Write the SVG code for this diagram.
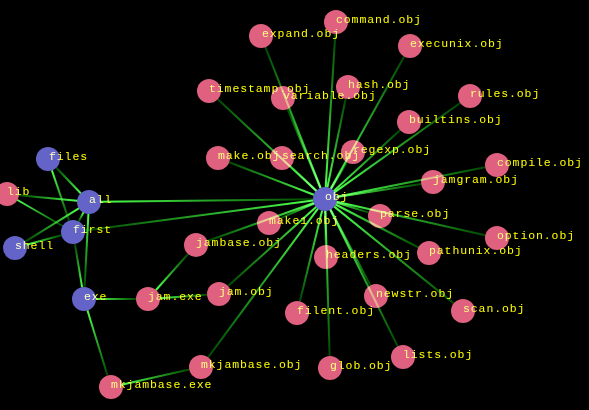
<svg xmlns="http://www.w3.org/2000/svg" xmlns:xlink="http://www.w3.org/1999/xlink" width="589" height="410" viewBox="0 0 589 410">
<style>
.p{fill:#e0607f}
.b{fill:#6464c8}
text{font-family:"Liberation Mono","DejaVu Sans Mono",monospace;font-size:11.5px;letter-spacing:0.9px;fill:#ffff00;mix-blend-mode:screen}
#edges line{stroke-width:2;mix-blend-mode:screen;fill:none}
</style>
<defs>
<linearGradient id="g"><stop offset="0" stop-color="#4cff4c"/><stop offset="1" stop-color="#004800"/></linearGradient>
<linearGradient id="e1" xlink:href="#g" gradientUnits="userSpaceOnUse" x1="325.7" y1="187" x2="335.3" y2="34"/>
<linearGradient id="e2" xlink:href="#g" gradientUnits="userSpaceOnUse" x1="320.6" y1="187.8" x2="265.4" y2="47.2"/>
<linearGradient id="e3" xlink:href="#g" gradientUnits="userSpaceOnUse" x1="330.8" y1="188.5" x2="404.2" y2="56.5"/>
<linearGradient id="e4" xlink:href="#g" gradientUnits="userSpaceOnUse" x1="327.4" y1="187.2" x2="345.6" y2="98.8"/>
<linearGradient id="e5" xlink:href="#g" gradientUnits="userSpaceOnUse" x1="316.2" y1="190.8" x2="217.8" y2="99.2"/>
<linearGradient id="e6" xlink:href="#g" gradientUnits="userSpaceOnUse" x1="320.4" y1="187.9" x2="287.6" y2="109.1"/>
<linearGradient id="e7" xlink:href="#g" gradientUnits="userSpaceOnUse" x1="334.8" y1="192.1" x2="460.2" y2="103"/>
<linearGradient id="e8" xlink:href="#g" gradientUnits="userSpaceOnUse" x1="333.8" y1="190.9" x2="400.2" y2="130.1"/>
<linearGradient id="e9" xlink:href="#g" gradientUnits="userSpaceOnUse" x1="336.8" y1="196.7" x2="485.2" y2="167.3"/>
<linearGradient id="e10" xlink:href="#g" gradientUnits="userSpaceOnUse" x1="336.9" y1="197.1" x2="421.1" y2="183.9"/>
<linearGradient id="e11" xlink:href="#g" gradientUnits="userSpaceOnUse" x1="331.1" y1="188.7" x2="346.9" y2="162.3"/>
<linearGradient id="e12" xlink:href="#g" gradientUnits="userSpaceOnUse" x1="313.8" y1="194.7" x2="229.2" y2="162.3"/>
<linearGradient id="e13" xlink:href="#g" gradientUnits="userSpaceOnUse" x1="316.3" y1="190.7" x2="290.7" y2="166.3"/>
<linearGradient id="e14" xlink:href="#g" gradientUnits="userSpaceOnUse" x1="314" y1="203.7" x2="280" y2="218.3"/>
<linearGradient id="e15" xlink:href="#g" gradientUnits="userSpaceOnUse" x1="336.5" y1="202.5" x2="368.5" y2="212.5"/>
<linearGradient id="e16" xlink:href="#g" gradientUnits="userSpaceOnUse" x1="313.7" y1="203" x2="207.3" y2="241"/>
<linearGradient id="e17" xlink:href="#g" gradientUnits="userSpaceOnUse" x1="325.2" y1="211" x2="325.8" y2="245"/>
<linearGradient id="e18" xlink:href="#g" gradientUnits="userSpaceOnUse" x1="336.7" y1="201.7" x2="485.3" y2="235.3"/>
<linearGradient id="e19" xlink:href="#g" gradientUnits="userSpaceOnUse" x1="335.6" y1="204.5" x2="418.4" y2="247.5"/>
<linearGradient id="e20" xlink:href="#g" gradientUnits="userSpaceOnUse" x1="334.3" y1="206.6" x2="453.7" y2="303.4"/>
<linearGradient id="e21" xlink:href="#g" gradientUnits="userSpaceOnUse" x1="330.6" y1="209.6" x2="370.4" y2="285.4"/>
<linearGradient id="e22" xlink:href="#g" gradientUnits="userSpaceOnUse" x1="322.1" y1="210.7" x2="299.9" y2="301.3"/>
<linearGradient id="e23" xlink:href="#g" gradientUnits="userSpaceOnUse" x1="330.3" y1="209.8" x2="397.7" y2="346.2"/>
<linearGradient id="e24" xlink:href="#g" gradientUnits="userSpaceOnUse" x1="325.4" y1="211" x2="329.6" y2="356"/>
<linearGradient id="e25" xlink:href="#g" gradientUnits="userSpaceOnUse" x1="316.1" y1="207" x2="228.1" y2="286"/>
<linearGradient id="e26" xlink:href="#g" gradientUnits="userSpaceOnUse" x1="317.9" y1="208.7" x2="208.1" y2="357.3"/>
<linearGradient id="e27" xlink:href="#g" gradientUnits="userSpaceOnUse" x1="313.1" y1="200.6" x2="84.9" y2="230.4"/>
<linearGradient id="e28" xlink:href="#g" gradientUnits="userSpaceOnUse" x1="101" y1="201.8" x2="313" y2="199.2"/>
<linearGradient id="e29" xlink:href="#g" gradientUnits="userSpaceOnUse" x1="80.7" y1="193.3" x2="56.3" y2="167.7"/>
<linearGradient id="e30" xlink:href="#g" gradientUnits="userSpaceOnUse" x1="77.1" y1="200.8" x2="18.9" y2="195.2"/>
<linearGradient id="e31" xlink:href="#g" gradientUnits="userSpaceOnUse" x1="78.8" y1="208.3" x2="25.2" y2="241.7"/>
<linearGradient id="e32" xlink:href="#g" gradientUnits="userSpaceOnUse" x1="88.4" y1="214" x2="84.6" y2="287"/>
<linearGradient id="e33" xlink:href="#g" gradientUnits="userSpaceOnUse" x1="83.4" y1="212.6" x2="78.6" y2="221.4"/>
<linearGradient id="e34" xlink:href="#g" gradientUnits="userSpaceOnUse" x1="51.9" y1="170.4" x2="69.1" y2="220.6"/>
<linearGradient id="e35" xlink:href="#g" gradientUnits="userSpaceOnUse" x1="17.4" y1="200" x2="62.6" y2="226"/>
<linearGradient id="e36" xlink:href="#g" gradientUnits="userSpaceOnUse" x1="26.6" y1="244.8" x2="61.4" y2="235.2"/>
<linearGradient id="e37" xlink:href="#g" gradientUnits="userSpaceOnUse" x1="82.1" y1="287.2" x2="74.9" y2="243.8"/>
<linearGradient id="e38" xlink:href="#g" gradientUnits="userSpaceOnUse" x1="96" y1="299" x2="136" y2="299"/>
<linearGradient id="e39" xlink:href="#g" gradientUnits="userSpaceOnUse" x1="87.5" y1="310.5" x2="107.5" y2="375.5"/>
<linearGradient id="e40" xlink:href="#g" gradientUnits="userSpaceOnUse" x1="160" y1="298.2" x2="207" y2="294.8"/>
<linearGradient id="e41" xlink:href="#g" gradientUnits="userSpaceOnUse" x1="156" y1="290" x2="188" y2="254"/>
<linearGradient id="e42" xlink:href="#g" gradientUnits="userSpaceOnUse" x1="122.7" y1="384.4" x2="189.3" y2="369.6"/>
</defs>
<rect x="0" y="0" width="589" height="410" fill="#000"/>
<g id="n-obj"><circle class="b" cx="325" cy="199" r="12"/><text x="325" y="200">obj</text></g>
<g id="n-files"><circle class="b" cx="48" cy="159" r="12"/><text x="49" y="160">files</text></g>
<g id="n-all"><circle class="b" cx="89" cy="202" r="12"/><text x="89" y="203">all</text></g>
<g id="n-first"><circle class="b" cx="73" cy="232" r="12"/><text x="73" y="233">first</text></g>
<g id="n-shell"><circle class="b" cx="15" cy="248" r="12"/><text x="15" y="249">shell</text></g>
<g id="n-exe"><circle class="b" cx="84" cy="299" r="12"/><text x="84" y="300">exe</text></g>
<g id="n-lib"><circle class="p" cx="7" cy="194" r="12"/><text x="7" y="195">lib</text></g>
<g id="n-command"><circle class="p" cx="336" cy="22" r="12"/><text x="336" y="23">command.obj</text></g>
<g id="n-expand"><circle class="p" cx="261" cy="36" r="12"/><text x="262" y="37">expand.obj</text></g>
<g id="n-execunix"><circle class="p" cx="410" cy="46" r="12"/><text x="410" y="47">execunix.obj</text></g>
<g id="n-hash"><circle class="p" cx="348" cy="87" r="12"/><text x="348" y="88">hash.obj</text></g>
<g id="n-variable"><circle class="p" cx="283" cy="98" r="12"/><text x="283" y="99">variable.obj</text></g>
<g id="n-timestamp"><circle class="p" cx="209" cy="91" r="12"/><text x="209" y="92">timestamp.obj</text></g>
<g id="n-rules"><circle class="p" cx="470" cy="96" r="12"/><text x="470" y="97">rules.obj</text></g>
<g id="n-builtins"><circle class="p" cx="409" cy="122" r="12"/><text x="409" y="123">builtins.obj</text></g>
<g id="n-compile"><circle class="p" cx="497" cy="165" r="12"/><text x="497" y="166">compile.obj</text></g>
<g id="n-jamgram"><circle class="p" cx="433" cy="182" r="12"/><text x="433" y="183">jamgram.obj</text></g>
<g id="n-regexp"><circle class="p" cx="353" cy="152" r="12"/><text x="353" y="153">regexp.obj</text></g>
<g id="n-search"><circle class="p" cx="282" cy="158" r="12"/><text x="282" y="159">search.obj</text></g>
<g id="n-make"><circle class="p" cx="218" cy="158" r="12"/><text x="218" y="159">make.obj</text></g>
<g id="n-make1"><circle class="p" cx="269" cy="223" r="12"/><text x="269" y="224">make1.obj</text></g>
<g id="n-parse"><circle class="p" cx="380" cy="216" r="12"/><text x="380" y="217">parse.obj</text></g>
<g id="n-jambase"><circle class="p" cx="196" cy="245" r="12"/><text x="196" y="246">jambase.obj</text></g>
<g id="n-option"><circle class="p" cx="497" cy="238" r="12"/><text x="497" y="239">option.obj</text></g>
<g id="n-pathunix"><circle class="p" cx="429" cy="253" r="12"/><text x="429" y="254">pathunix.obj</text></g>
<g id="n-headers"><circle class="p" cx="326" cy="257" r="12"/><text x="326" y="258">headers.obj</text></g>
<g id="n-scan"><circle class="p" cx="463" cy="311" r="12"/><text x="463" y="312">scan.obj</text></g>
<g id="n-newstr"><circle class="p" cx="376" cy="296" r="12"/><text x="376" y="297">newstr.obj</text></g>
<g id="n-filent"><circle class="p" cx="297" cy="313" r="12"/><text x="297" y="314">filent.obj</text></g>
<g id="n-lists"><circle class="p" cx="403" cy="357" r="12"/><text x="403" y="358">lists.obj</text></g>
<g id="n-glob"><circle class="p" cx="330" cy="368" r="12"/><text x="330" y="369">glob.obj</text></g>
<g id="n-jamexe"><circle class="p" cx="148" cy="299" r="12"/><text x="148" y="300">jam.exe</text></g>
<g id="n-jamobj"><circle class="p" cx="219" cy="294" r="12"/><text x="219" y="295">jam.obj</text></g>
<g id="n-mkjambaseobj"><circle class="p" cx="201" cy="367" r="12"/><text x="201" y="368">mkjambase.obj</text></g>
<g id="n-mkjambaseexe"><circle class="p" cx="111" cy="387" r="12"/><text x="111" y="388">mkjambase.exe</text></g>
<g id="edges">
<line x1="325.7" y1="187" x2="335.3" y2="34" stroke="url(#e1)"/>
<line x1="320.6" y1="187.8" x2="265.4" y2="47.2" stroke="url(#e2)"/>
<line x1="330.8" y1="188.5" x2="404.2" y2="56.5" stroke="url(#e3)"/>
<line x1="327.4" y1="187.2" x2="345.6" y2="98.8" stroke="url(#e4)"/>
<line x1="316.2" y1="190.8" x2="217.8" y2="99.2" stroke="url(#e5)"/>
<line x1="320.4" y1="187.9" x2="287.6" y2="109.1" stroke="url(#e6)"/>
<line x1="334.8" y1="192.1" x2="460.2" y2="103" stroke="url(#e7)"/>
<line x1="333.8" y1="190.9" x2="400.2" y2="130.1" stroke="url(#e8)"/>
<line x1="336.8" y1="196.7" x2="485.2" y2="167.3" stroke="url(#e9)"/>
<line x1="336.9" y1="197.1" x2="421.1" y2="183.9" stroke="url(#e10)"/>
<line x1="331.1" y1="188.7" x2="346.9" y2="162.3" stroke="url(#e11)"/>
<line x1="313.8" y1="194.7" x2="229.2" y2="162.3" stroke="url(#e12)"/>
<line x1="316.3" y1="190.7" x2="290.7" y2="166.3" stroke="url(#e13)"/>
<line x1="314" y1="203.7" x2="280" y2="218.3" stroke="url(#e14)"/>
<line x1="336.5" y1="202.5" x2="368.5" y2="212.5" stroke="url(#e15)"/>
<line x1="313.7" y1="203" x2="207.3" y2="241" stroke="url(#e16)"/>
<line x1="325.2" y1="211" x2="325.8" y2="245" stroke="url(#e17)"/>
<line x1="336.7" y1="201.7" x2="485.3" y2="235.3" stroke="url(#e18)"/>
<line x1="335.6" y1="204.5" x2="418.4" y2="247.5" stroke="url(#e19)"/>
<line x1="334.3" y1="206.6" x2="453.7" y2="303.4" stroke="url(#e20)"/>
<line x1="330.6" y1="209.6" x2="370.4" y2="285.4" stroke="url(#e21)"/>
<line x1="322.1" y1="210.7" x2="299.9" y2="301.3" stroke="url(#e22)"/>
<line x1="330.3" y1="209.8" x2="397.7" y2="346.2" stroke="url(#e23)"/>
<line x1="325.4" y1="211" x2="329.6" y2="356" stroke="url(#e24)"/>
<line x1="316.1" y1="207" x2="228.1" y2="286" stroke="url(#e25)"/>
<line x1="317.9" y1="208.7" x2="208.1" y2="357.3" stroke="url(#e26)"/>
<line x1="313.1" y1="200.6" x2="84.9" y2="230.4" stroke="url(#e27)"/>
<line x1="101" y1="201.8" x2="313" y2="199.2" stroke="url(#e28)"/>
<line x1="80.7" y1="193.3" x2="56.3" y2="167.7" stroke="url(#e29)"/>
<line x1="77.1" y1="200.8" x2="18.9" y2="195.2" stroke="url(#e30)"/>
<line x1="78.8" y1="208.3" x2="25.2" y2="241.7" stroke="url(#e31)"/>
<line x1="88.4" y1="214" x2="84.6" y2="287" stroke="url(#e32)"/>
<line x1="83.4" y1="212.6" x2="78.6" y2="221.4" stroke="url(#e33)"/>
<line x1="51.9" y1="170.4" x2="69.1" y2="220.6" stroke="url(#e34)"/>
<line x1="17.4" y1="200" x2="62.6" y2="226" stroke="url(#e35)"/>
<line x1="26.6" y1="244.8" x2="61.4" y2="235.2" stroke="url(#e36)"/>
<line x1="82.1" y1="287.2" x2="74.9" y2="243.8" stroke="url(#e37)"/>
<line x1="96" y1="299" x2="136" y2="299" stroke="url(#e38)"/>
<line x1="87.5" y1="310.5" x2="107.5" y2="375.5" stroke="url(#e39)"/>
<line x1="160" y1="298.2" x2="207" y2="294.8" stroke="url(#e40)"/>
<line x1="156" y1="290" x2="188" y2="254" stroke="url(#e41)"/>
<line x1="122.7" y1="384.4" x2="189.3" y2="369.6" stroke="url(#e42)"/>
</g>
</svg>
